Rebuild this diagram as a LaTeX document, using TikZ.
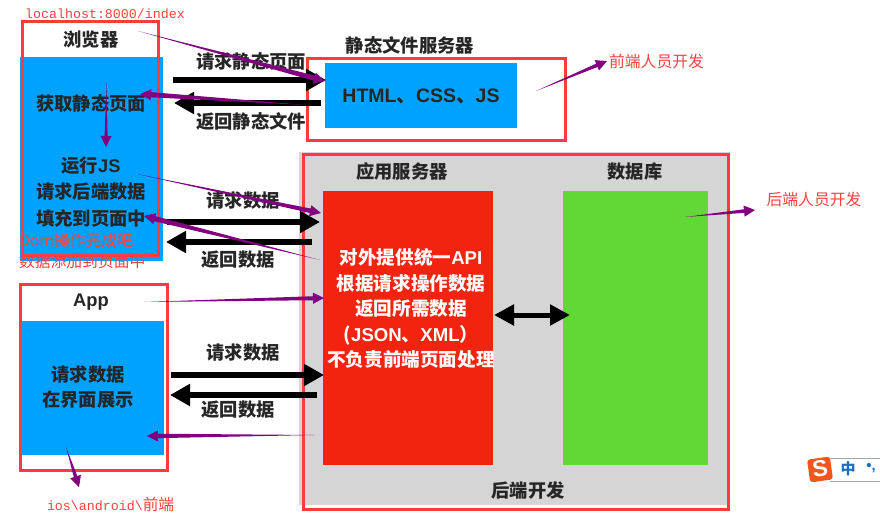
\documentclass[tikz,border=0pt]{standalone}
\usepackage{fontspec}
\setmainfont{Noto Sans CJK SC}
\newfontfamily\latb{Liberation Sans}
\newfontfamily\monof{Liberation Mono}
\usetikzlibrary{arrows.meta,calc}
\definecolor{bluebox}{HTML}{00A2FF}
\definecolor{redbox}{HTML}{F2230F}
\definecolor{greenbox}{HTML}{61D836}
\definecolor{greybox}{HTML}{D5D5D5}
\definecolor{frame}{HTML}{FF3B3F}
\definecolor{purp}{HTML}{800080}
\definecolor{notered}{HTML}{FF4040}
\definecolor{imeblue}{HTML}{1A6FC4}
\definecolor{imeorange}{HTML}{F0561E}
\newcommand\lat[1]{{\latb\bfseries #1}}
\tikzset{
  x=1pt,y=-1pt,
  every node/.style={inner sep=0pt,outer sep=0pt},
  lab/.style={font=\fontsize{18.3}{18.3}\selectfont\bfseries,text=black!85,align=center},
  whitelab/.style={font=\fontsize{18.6}{25.5}\selectfont\bfseries,text=white,align=center},
  note/.style={font=\fontsize{15.8}{21}\selectfont,text=notered,align=left},
  monote/.style={font=\fontsize{13.3}{14}\monof,text=notered},
  framebox/.style={draw=frame,line width=3pt},
  blackarrow/.style={line width=6pt,draw=black,-{Triangle[length=20pt,width=21pt]}},
  bothblack/.style={line width=5pt,draw=black,{Triangle[length=20pt,width=20pt]}-{Triangle[length=20pt,width=20pt]}},
}
% tapered purple arrow: #1 start coordinate, #2 tip coordinate, #3 shaft half width at head
\newcommand\taper[3]{%
  \coordinate (tb) at ($(#2)!11pt!(#1)$);
  \fill[purp] (#1)
    -- ($(tb)!#3!90:(#2)$)
    -- ($(tb)!5.6pt!90:(#2)$)
    -- (#2)
    -- ($(tb)!5.6pt!-90:(#2)$)
    -- ($(tb)!#3!-90:(#2)$)
    -- cycle;
}
\begin{document}
\begin{tikzpicture}
\useasboundingbox (0,0) rectangle (880,519);
\fill[white] (0,0) rectangle (880,519);

% filled areas
\fill[bluebox] (20,57) rectangle (163,261);
\fill[bluebox] (21,321) rectangle (164,455);
\fill[bluebox] (325,63) rectangle (517,128);
\fill[greybox] (299,152) rectangle (730,505);
\fill[redbox] (323,191) rectangle (493,465);
\fill[greenbox] (563,191) rectangle (708,465);

% frames
\draw[framebox] (22,22) rectangle (158,255);
\draw[framebox] (20,284) rectangle (167,470);
\draw[framebox] (307,59) rectangle (565,140);
\draw[framebox] (303,154) rectangle (728,509);

% named anchors for connectors
\coordinate (a1s) at (173,80);  \coordinate (a1e) at (326,80);
\coordinate (a2s) at (321,103); \coordinate (a2e) at (174,103);
\coordinate (a3s) at (167,222); \coordinate (a3e) at (320,222);
\coordinate (a4s) at (312,242); \coordinate (a4e) at (166,242);
\coordinate (a5s) at (171,375); \coordinate (a5e) at (324,375);
\coordinate (a6s) at (317,395); \coordinate (a6e) at (170,395);
\coordinate (a7s) at (494,315); \coordinate (a7e) at (570,315);

\draw[blackarrow] (a1s) -- (a1e);
\draw[blackarrow] (a2s) -- (a2e);
\draw[blackarrow] (a3s) -- (a3e);
\draw[blackarrow] (a4s) -- (a4e);
\draw[blackarrow] (a5s) -- (a5e);
\draw[blackarrow] (a6s) -- (a6e);
\draw[bothblack] (a7s) -- (a7e);

% labels
\node[lab] (browser) at (91,40) {浏览器};
\node[lab] (fetch) at (91,103) {获取静态页面};
\node[lab] (runjs) at (91,166) {运行\lat{JS}};
\node[lab] (reqback) at (91,192) {请求后端数据};
\node[lab] (fill) at (91,218) {填充到页面中};
\node[lab] (reqstatic) at (251,61) {请求静态页面};
\node[lab] (retstatic) at (251,121) {返回静态文件};
\node[lab] (staticsrv) at (410,45) {静态文件服务器};
\node[lab,font=\fontsize{19.5}{19.5}\selectfont\bfseries] (html) at (421,96) {\lat{HTML}、\lat{CSS}、\lat{JS}};
\node[lab] (appsrv) at (402,172) {应用服务器};
\node[lab] (db) at (635,172) {数据库};
\node[lab] (req1) at (243,201) {请求数据};
\node[lab] (ret1) at (238,260) {返回数据};
\node[lab] (app) at (91,302) {\lat{App}};
\node[lab] (show1) at (88,375) {请求数据};
\node[lab] (show2) at (88,400) {在界面展示};
\node[lab] (req2) at (243,353) {请求数据};
\node[lab] (ret2) at (238,410) {返回数据};
\node[lab] (backdev) at (528,491) {后端开发};
\node[whitelab] (api) at (411,308.5) {对外提供统一\lat{API}\\根据请求操作数据\\返回所需数据\\(\lat{JSON}、\lat{XML}）\\不负责前端页面处理};

% red notes
\node[monote] (url) at (105,14) {localhost:8000/index};
\node[monote,anchor=west] (ios) at (47,505) {ios\textbackslash android\textbackslash\fontsize{15.7}{15.7}\rmfamily 前端};
\node[note,anchor=west] (dom) at (19,250.5) {Dom操作完成吧\\数据添加到页面中};
\node[note] (fedev) at (656.5,61) {前端人员开发};
\node[note] (bedev) at (814,199) {后端人员开发};

% purple arrows
\coordinate (p1s) at (138,31);  \coordinate (p1e) at (325,81);
\coordinate (p2s) at (306,105); \coordinate (p2e) at (140,94);
\coordinate (p3s) at (106.5,83);\coordinate (p3e) at (106,147);
\coordinate (p4s) at (137,174); \coordinate (p4e) at (321,213);
\coordinate (p5s) at (320,260); \coordinate (p5e) at (144,216);
\coordinate (p6s) at (144,302); \coordinate (p6e) at (324,298);
\coordinate (p7s) at (315,435); \coordinate (p7e) at (147,436);
\coordinate (p8s) at (66,447);  \coordinate (p8e) at (79,487);
\coordinate (p9s) at (536,91);  \coordinate (p9e) at (607,61);
\coordinate (p10s) at (685,217);\coordinate (p10e) at (755,210);
\taper{p1s}{p1e}{2.6pt}
\taper{p2s}{p2e}{2.6pt}
\taper{p3s}{p3e}{1.5pt}
\taper{p4s}{p4e}{2.2pt}
\taper{p5s}{p5e}{2.6pt}
\taper{p6s}{p6e}{2pt}
\taper{p7s}{p7e}{2.2pt}
\taper{p8s}{p8e}{1.8pt}
\taper{p9s}{p9e}{1.8pt}
\taper{p10s}{p10e}{1.8pt}

% input-method widget
\draw[black!35,line width=1pt] (830,458) -- (880,458) (830,481) -- (880,481);
\node[rotate=8,fill=imeorange,rounded corners=3pt,minimum width=23pt,minimum height=23pt] (sgicon) at (820,469.5) {};
\node[rotate=8,text=white,font=\fontsize{23}{23}\latb\bfseries] (sgs) at (820,469) {S};
\node[text=imeblue,font=\fontsize{15}{15}\selectfont\bfseries] (zh) at (848,469) {中};
\node[text=imeblue,font=\fontsize{15}{15}\latb\bfseries] (pt) at (871,468) {•,};
\end{tikzpicture}
\end{document}
